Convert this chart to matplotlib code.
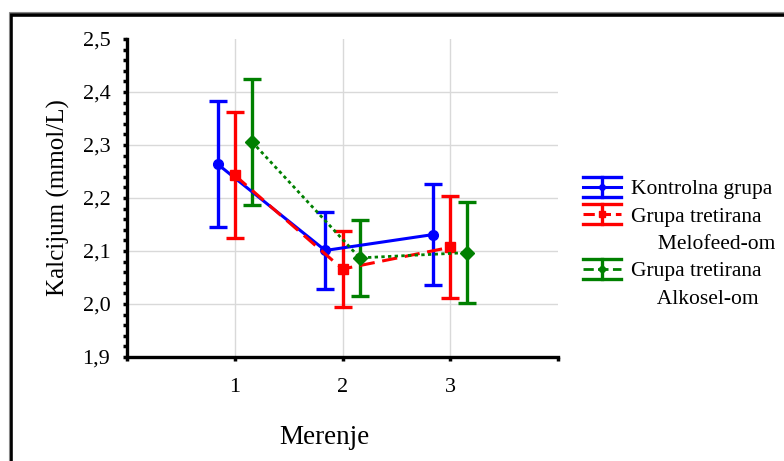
import numpy as np
import matplotlib
matplotlib.use('Agg')
import matplotlib.pyplot as plt
from matplotlib.lines import Line2D
from matplotlib.patches import Rectangle
from matplotlib.container import ErrorbarContainer
from matplotlib.legend_handler import HandlerBase
from matplotlib.ticker import MultipleLocator, FuncFormatter

# Podaci (srednje vrednosti i greske) po merenjima
merenje = [1, 2, 3]
kontrolna = [2.264, 2.101, 2.131]
kontrolna_err = [0.119, 0.072, 0.096]
melofeed = [2.243, 2.066, 2.107]
melofeed_err = [0.119, 0.072, 0.096]
alkosel = [2.306, 2.087, 2.097]
alkosel_err = [0.119, 0.072, 0.096]
naziv = ['Kontrolna grupa', 'Grupa tretirana', 'Grupa tretirana']
nastavak = ['     Melofeed-om', '     Alkosel-om']

plt.rcParams['font.family'] = ['Liberation Serif', 'DejaVu Serif']

fig = plt.figure(figsize=(7.84, 4.61), dpi=100)
ax = fig.add_axes([127/784, 1 - 357/461, (558 - 127)/784, (357 - 39)/461])

x = np.array(merenje, dtype=float)
pomak = 0.16

serije = [
    (x - pomak, kontrolna, kontrolna_err, '#0000ff', '-', 'o', 7, 2.2),
    (x, melofeed, melofeed_err, '#ff0000', (0, (5, 2.5)), 's', 7, 2.2),
    (x + pomak, alkosel, alkosel_err, '#008000', (0, (1.2, 1.2)), 'D', 7, 2.0),
]
kont = []
for xs, ys, es, c, ls, m, ms, lw in serije:
    eb = ax.errorbar(xs, ys, yerr=es, color=c, ecolor=c, linestyle=ls, linewidth=lw,
                     marker=m, markersize=ms, elinewidth=2.4, capsize=6.5,
                     capthick=2.4, zorder=3)
    kont.append(eb)

ax.set_xlim(0, 4)
ax.set_ylim(1.9, 2.5)
ax.set_xticks([0, 1, 2, 3, 4])
ax.set_xticklabels(['', '1', '2', '3', ''])
ax.yaxis.set_major_locator(MultipleLocator(0.1))
ax.yaxis.set_minor_locator(MultipleLocator(0.02))
ax.yaxis.set_major_formatter(FuncFormatter(lambda v, p: f'{v:.1f}'.replace('.', ',')))

for v in [1, 2, 3]:
    ax.axvline(v, color='#d9d9d9', lw=1, zorder=0)
for v in np.arange(2.0, 2.45, 0.1):
    ax.axhline(v, color='#d9d9d9', lw=1, zorder=0)

for s in ['top', 'right']:
    ax.spines[s].set_visible(False)
for s in ['left', 'bottom']:
    ax.spines[s].set_linewidth(2.4)
ax.tick_params(axis='both', which='major', direction='out', length=3, width=2.5,
               labelsize=16, pad=9)
ax.tick_params(axis='y', which='minor', direction='out', length=3, width=2.5)
ax.tick_params(axis='x', pad=12)

ax.set_xlabel('Merenje', fontsize=19.5)
ax.xaxis.set_label_coords((324 - 127) / 431, (357 - 425) / 318)
ax.set_ylabel('Kalcijum (mmol/L)', fontsize=18, labelpad=9)


class ErrHandler(HandlerBase):
    def create_artists(self, legend, orig, xd, yd, w, h, fs, trans):
        ln = orig.lines[0]
        c = ln.get_color()
        y0, y1 = -yd - 0.12 * h, -yd + 1.12 * h
        ym = (y0 + y1) / 2
        a = [Line2D([-xd, -xd + w], [y0, y0], color=c, lw=2.4),
             Line2D([-xd, -xd + w], [y1, y1], color=c, lw=2.4),
             Line2D([-xd + w / 2] * 2, [y0, y1], color=c, lw=2.4),
             Line2D([-xd, -xd + w], [ym, ym], color=c, lw=ln.get_linewidth(),
                    linestyle=ln.get_linestyle()),
             Line2D([-xd + w / 2], [ym], color=c, marker=ln.get_marker(), markersize=4)]
        for art in a:
            art.set_transform(trans)
        return a


prazno = Rectangle((0, 0), 1, 1, visible=False)
handles = [kont[0], kont[1], prazno, kont[2], prazno]
labels = [naziv[0], naziv[1], nastavak[0], naziv[2], nastavak[1]]
fig.legend(handles, labels, loc='upper left', bbox_to_anchor=(583/784, 1 - 179/461),
           frameon=False, fontsize=15.5, handlelength=1.75, handleheight=0.75,
           handletextpad=0.5, labelspacing=0.32, borderpad=0, borderaxespad=0,
           handler_map={ErrorbarContainer: ErrHandler()})

# okvir
fig.add_artist(Rectangle((11/784, -0.05), 1.0, 1 - 14.5/461 + 0.05,
                         transform=fig.transFigure, fill=False, ec='black', lw=2.6))
fig.add_artist(Rectangle((8.5/784, -0.05), 1.0, 1 - 12/461 + 0.05,
                         transform=fig.transFigure, fill=False, ec='#888888', lw=0.8))

fig.savefig('out.png', dpi=100)
